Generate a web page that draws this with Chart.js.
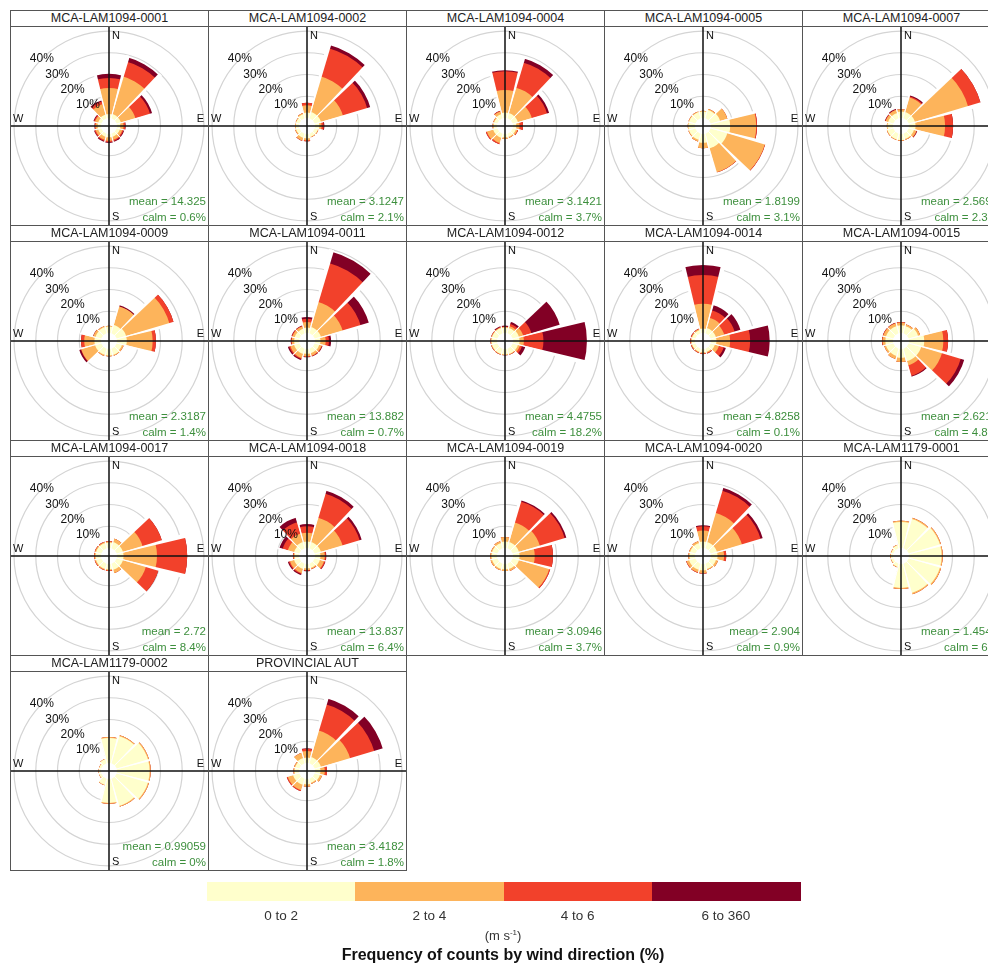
<!DOCTYPE html>
<html>
<head>
<meta charset="utf-8">
<script src="https://cdn.jsdelivr.net/npm/chart.js@4.4.1/dist/chart.umd.min.js"></script>
<style>
  html, body { margin: 0; padding: 0; background: #fff; overflow: hidden; width: 988px; height: 964px; }
  #fig { position: relative; width: 988px; height: 964px; overflow: hidden; font-family: "Liberation Sans", Arial, sans-serif; }
  .panel { position: absolute; width: 199px; height: 216px; box-sizing: border-box; border: 1px solid #555; background: #fff; overflow: hidden; }
  .ptitle { height: 15px; border-bottom: 1px solid #555; text-align: center; font-size: 12.5px; line-height: 15px; color: #222; white-space: nowrap; }
  .panel canvas { position: absolute; left: 0; top: 16px; }
  .stat { position: absolute; right: 2px; font-size: 11.5px; line-height: 13px; color: #3d8f3d; white-space: nowrap; }
  .seg { position: absolute; top: 882px; height: 19px; }
  .segLab { position: absolute; top: 908px; font-size: 13.5px; line-height: 16px; color: #333; text-align: center; }
  #unit { position: absolute; left: 403px; width: 200px; top: 925px; text-align: center; font-size: 13px; line-height: 16px; color: #333; }
  #ltitle { position: absolute; left: 253px; width: 500px; top: 945px; text-align: center; font-size: 16px; font-weight: bold; line-height: 19px; color: #111; }
</style>
</head>
<body>
<div id="fig"></div>
<script>
// 30-degree direction sectors, clockwise from north
const directions = ['N', 'NNE', 'ENE', 'E', 'ESE', 'SSE', 'S', 'SSW', 'WSW', 'W', 'WNW', 'NNW'];

const stations = [
  'MCA-LAM1094-0001', 'MCA-LAM1094-0002', 'MCA-LAM1094-0004', 'MCA-LAM1094-0005', 'MCA-LAM1094-0007',
  'MCA-LAM1094-0009', 'MCA-LAM1094-0011', 'MCA-LAM1094-0012', 'MCA-LAM1094-0014', 'MCA-LAM1094-0015',
  'MCA-LAM1094-0017', 'MCA-LAM1094-0018', 'MCA-LAM1094-0019', 'MCA-LAM1094-0020', 'MCA-LAM1179-0001',
  'MCA-LAM1179-0002', 'PROVINCIAL AUT'
];

const meanSpeed = [14.325, 3.1247, 3.1421, 1.8199, 2.5693, 2.3187, 13.882, 4.4755, 4.8258, 2.6214,
  2.72, 13.837, 3.0946, 2.904, 1.4543, 0.99059, 3.4182];

const calmPct = [0.6, 2.1, 3.7, 3.1, 2.3, 1.4, 0.7, 18.2, 0.1, 4.8, 8.4, 6.4, 3.7, 0.9, 6, 0, 1.8];

const binLabels = ['0 to 2', '2 to 4', '4 to 6', '6 to 360'];
const binColors = ['#FFFFCC', '#FDB45B', '#F2412B', '#820025'];

// frequency (%) per direction for each speed bin, one row per station
const freq0to2 = [
  [1.8, 2, 2, 1.5, 1.5, 1.5, 1.5, 1.5, 1.5, 1.5, 1.5, 1.8],
  [2.5, 3, 3, 2, 1.5, 1.5, 2, 2, 1.5, 1.5, 1.5, 2],
  [2.5, 2.5, 2.5, 1.5, 1.5, 1.5, 1.5, 2, 2, 1.5, 1.5, 2],
  [3, 4, 4.5, 8.8, 8, 7, 4, 3, 3, 3, 3, 3],
  [3, 3, 3, 3, 2.5, 2.5, 2.8, 2.8, 2.8, 2.5, 2.5, 2.5],
  [3, 4, 4.5, 4.5, 2.5, 3, 3, 3, 3, 3, 2.8, 3],
  [2.5, 3, 3, 2.5, 2.2, 2.2, 2.2, 2.5, 2.5, 2.2, 2.2, 2.2],
  [2.5, 2.5, 3, 3, 2.5, 2.5, 2.5, 2.5, 2.5, 2.5, 2.5, 2.5],
  [2, 2.5, 2.5, 2.5, 2, 1.5, 1.5, 1.5, 1.5, 1.5, 1.5, 1.5],
  [3.5, 3.5, 4.5, 7, 6, 6, 4, 3.5, 3.5, 3.5, 3.5, 3.5],
  [2.5, 3, 3, 3, 3, 3, 2.5, 2.5, 2.5, 2.5, 2.5, 2.5],
  [3, 3, 3, 2.5, 2.5, 2, 2, 2.5, 2.5, 2, 2.5, 3],
  [3, 3, 3, 3, 3, 2.5, 2.5, 2.5, 2.5, 2.5, 2.5, 2.5],
  [3, 3, 3, 3, 2.5, 2.5, 3, 3, 3, 2.5, 2.5, 2.5],
  [12, 14, 15, 15, 15, 14, 11, 1.5, 1, 1, 1, 1.5],
  [11.5, 13, 15, 15, 15, 13, 11, 3, 1, 1, 1, 2],
  [2.5, 3, 3, 2.5, 2.5, 2, 2.5, 3, 3, 2, 2, 2.5]
];
const freq2to4 = [
  [12, 18, 7, 1.5, 1.2, 1.5, 1.6, 1.5, 1.2, 1, 1.5, 5],
  [3.3, 17, 10.5, 1, 0.3, 0.3, 1, 1.3, 0.5, 0.3, 0.3, 0.5],
  [10.4, 12.2, 6.7, 1.5, 0.8, 0.5, 0.8, 2.5, 3, 0.5, 0.5, 1.3],
  [0.3, 0.5, 3.5, 12, 18, 11.5, 2.5, 0.8, 0.3, 0.3, 0.3, 0.3],
  [1, 7, 25.5, 13.6, 1.2, 0.5, 0.3, 0.3, 0.3, 0.3, 1.2, 1.5],
  [0.3, 8.9, 20.8, 11.9, 0.8, 0.3, 0.3, 0.5, 6.6, 4.7, 1, 0.5],
  [2.5, 12, 10.4, 2.4, 1.1, 1.1, 1.1, 2, 1.8, 1.1, 1.1, 1.1],
  [0.3, 1, 2, 2, 1, 0.3, 0.3, 0.3, 0.3, 0.3, 0.3, 0.3],
  [11.4, 4.9, 4, 6.3, 2, 0.5, 0.5, 0.4, 0.4, 0.4, 0.4, 0.5],
  [1.3, 0.8, 1, 8.8, 10, 2, 2, 1.5, 0.8, 1.3, 1.3, 1.3],
  [0.5, 1.6, 9.4, 15.4, 11, 1.5, 0.5, 0.5, 0.5, 0.5, 0.5, 0.5],
  [4, 11.7, 10.4, 2, 2, 0.5, 0.8, 2, 2, 0.5, 3, 4],
  [2, 9.4, 10, 7, 14.5, 1, 0.7, 0.7, 0.7, 0.5, 0.5, 1],
  [5, 14, 12, 3, 1, 0.5, 1.2, 1.2, 1.2, 0.5, 0.5, 1],
  [0.5, 0.6, 0.5, 0.5, 0.6, 0.6, 0.5, 0.3, 0.2, 0.2, 0.2, 0.2],
  [0.4, 0.5, 0.5, 0.5, 0.5, 0.5, 0.4, 0.2, 0.1, 0.1, 0.1, 0.1],
  [3, 12.7, 14, 2, 1, 0.5, 1, 2.5, 2.5, 0.5, 0.5, 2.5]
];
const freq4to6 = [
  [4.6, 7, 7, 0.8, 0.5, 0.5, 0.6, 0.5, 0.5, 0.3, 0.5, 1.2],
  [1.2, 13.5, 11.7, 1, 0, 0, 0.3, 0.2, 0, 0, 0, 0],
  [8.6, 12, 7.3, 1.6, 0.3, 0, 0, 0.6, 0.5, 0, 0, 0.3],
  [0, 0, 0, 0.4, 0.2, 0.1, 0, 0, 0, 0, 0, 0],
  [0, 0.5, 6, 3.7, 0.2, 0, 0, 0, 0, 0, 0.2, 0.2],
  [0, 0, 2, 1.5, 0, 0, 0, 0, 0.2, 1.5, 0, 0],
  [1.5, 18.6, 8.6, 1.5, 0.3, 0.3, 0.3, 0.5, 0.6, 0.3, 0.3, 0.3],
  [0.2, 1, 4, 9, 1, 0.1, 0.1, 0.1, 0.1, 0.1, 0.1, 0.2],
  [13.3, 3.6, 5, 9.2, 2.3, 0.3, 0.3, 0.2, 0.2, 0.2, 0.2, 0.2],
  [0.2, 0, 0, 2.2, 9, 5, 0, 0, 0, 0.2, 0.2, 0.2],
  [0.2, 0, 9.3, 13.9, 6, 0, 0.2, 0.2, 0.2, 0.2, 0.2, 0.2],
  [3, 11.5, 8.2, 0.5, 0.5, 0.2, 0.3, 0.5, 0.5, 0.2, 2.5, 5.5],
  [0, 10, 12, 8.4, 0.5, 0, 0, 0, 0, 0, 0, 0],
  [2, 10.6, 9, 1, 0, 0, 0.2, 0.2, 0.2, 0, 0, 0],
  [0, 0, 0, 0, 0, 0, 0, 0, 0, 0, 0, 0],
  [0, 0, 0, 0, 0, 0, 0, 0, 0, 0, 0, 0],
  [1, 12.5, 11.6, 1, 0, 0, 0, 0.5, 0.5, 0, 0, 0]
];
const freq6to360 = [
  [1.9, 2, 1, 0.2, 0.4, 0.4, 0.4, 0.4, 0.3, 0.2, 0.3, 0.6],
  [0, 1.5, 1.5, 0.3, 0, 0, 0, 0, 0, 0, 0, 0],
  [0.5, 1.9, 1, 0, 0, 0, 0, 0, 0, 0, 0, 0.1],
  [0, 0, 0, 0, 0, 0, 0, 0, 0, 0, 0, 0],
  [0, 0.5, 0, 0, 0.2, 0, 0, 0, 0, 0, 0.2, 0.3],
  [0, 0.5, 0, 0, 0, 0, 0, 0, 0.8, 0, 0.2, 0],
  [0.9, 5.4, 4, 1, 0.2, 0.2, 0.2, 0.5, 0.6, 0.2, 0.2, 0.2],
  [0.4, 1, 13.6, 20, 1.5, 0.1, 0.1, 0.1, 0.1, 0.1, 0.1, 0.4],
  [4.6, 2.4, 2.8, 9, 1, 0.1, 0.1, 0.1, 0.1, 0.1, 0.1, 0.1],
  [0.1, 0, 0, 0, 1.7, 0.5, 0, 0, 0, 0.1, 0.1, 0.1],
  [0, 0, 0, 0, 0, 0, 0, 0, 0, 0, 0, 0],
  [1, 1.4, 1, 0.2, 0.2, 0, 0.2, 0.5, 0.5, 0.1, 1.5, 2.2],
  [0, 0.6, 0.8, 0, 0, 0, 0, 0, 0, 0, 0, 0],
  [0.5, 1.4, 1, 0, 0, 0, 0, 0, 0, 0, 0, 0],
  [0, 0, 0, 0, 0, 0, 0, 0, 0, 0, 0, 0],
  [0, 0, 0, 0, 0, 0, 0, 0, 0, 0, 0, 0],
  [0.3, 2.8, 4.1, 0, 0, 0, 0, 0, 0, 0, 0, 0]
];

const ringValues = [10, 20, 30, 40];

// ---- layout ----
const COLS = 5, PANEL_W = 198, PANEL_H = 215, ORIGIN_X = 10, ORIGIN_Y = 10;
const CANVAS_W = 197, CANVAS_H = 198;
// radial axis range: negative minimum leaves an empty hole around the centre
const R_MIN = -3.7, R_MAX = 41.4;

const fig = document.getElementById('fig');

// White wedges between sectors, centre hole, cross axes and annotations
const roseDecor = {
  id: 'roseDecor',
  afterDatasetsDraw(chart) {
    const r = chart.scales.r;
    const ctx = chart.ctx;
    const cx = r.xCenter, cy = r.yCenter;
    const outer = chart.getDatasetMeta(chart.data.datasets.length - 1).data;
    const n = outer.length;
    const half = 1.6 * Math.PI / 180;
    ctx.save();
    ctx.fillStyle = '#fff';
    ctx.strokeStyle = '#fff';
    ctx.lineWidth = 1;
    for (let k = 0; k < n; k++) {
      const a = outer[k].startAngle;
      const prev = outer[(k - 1 + n) % n];
      const len = Math.max(outer[k].outerRadius, prev.outerRadius) + 2;
      ctx.beginPath();
      ctx.moveTo(cx, cy);
      ctx.arc(cx, cy, len, a - half, a + half);
      ctx.closePath();
      ctx.fill();
      ctx.beginPath();
      ctx.moveTo(cx, cy);
      ctx.lineTo(cx + len * Math.cos(a), cy + len * Math.sin(a));
      ctx.stroke();
    }
    ctx.beginPath();
    ctx.arc(cx, cy, r.getDistanceFromCenterForValue(0), 0, 2 * Math.PI);
    ctx.fill();

    ctx.strokeStyle = '#111';
    ctx.lineWidth = 1.5;
    ctx.beginPath();
    ctx.moveTo(0, cy); ctx.lineTo(chart.width, cy);
    ctx.moveTo(cx, 0); ctx.lineTo(cx, chart.height);
    ctx.stroke();

    ctx.fillStyle = '#111';
    ctx.font = '11px "Liberation Sans", Arial, sans-serif';
    ctx.textBaseline = 'middle';
    ctx.textAlign = 'left';
    ctx.fillText('N', cx + 3, 9);
    ctx.fillText('S', cx + 3, chart.height - 8);
    ctx.fillText('W', 2, cy - 7);
    ctx.textAlign = 'right';
    ctx.fillText('E', chart.width - 4, cy - 7);

    ctx.font = '12px "Liberation Sans", Arial, sans-serif';
    ctx.textAlign = 'center';
    ringValues.forEach(v => {
      const d = r.getDistanceFromCenterForValue(v) * Math.SQRT1_2;
      ctx.fillText(v + '%', cx - d, cy - d);
    });
    ctx.restore();
  }
};

const bins = [freq0to2, freq2to4, freq4to6, freq6to360];

stations.forEach((name, s) => {
  const col = s % COLS, row = Math.floor(s / COLS);
  const panel = document.createElement('div');
  panel.className = 'panel';
  panel.style.left = (ORIGIN_X + col * PANEL_W) + 'px';
  panel.style.top = (ORIGIN_Y + row * PANEL_H) + 'px';

  const title = document.createElement('div');
  title.className = 'ptitle';
  title.textContent = name;
  panel.appendChild(title);

  const canvas = document.createElement('canvas');
  canvas.width = CANVAS_W;
  canvas.height = CANVAS_H;
  canvas.style.width = CANVAS_W + 'px';
  canvas.style.height = CANVAS_H + 'px';
  panel.appendChild(canvas);

  const meanEl = document.createElement('div');
  meanEl.className = 'stat';
  meanEl.style.top = '184px';
  meanEl.textContent = 'mean = ' + meanSpeed[s];
  panel.appendChild(meanEl);

  const calmEl = document.createElement('div');
  calmEl.className = 'stat';
  calmEl.style.top = '200px';
  calmEl.textContent = 'calm = ' + calmPct[s] + '%';
  panel.appendChild(calmEl);

  fig.appendChild(panel);

  // stacked paddles: each dataset holds the running total up to its speed bin,
  // the first (innermost) dataset is painted last, on top
  const running = directions.map(() => 0);
  const datasets = bins.map((bin, b) => {
    const values = bin[s].map((v, i) => (running[i] += v));
    return {
      label: binLabels[b],
      data: values.slice(),
      backgroundColor: binColors[b],
      borderWidth: 0
    };
  });

  new Chart(canvas, {
    type: 'polarArea',
    data: { labels: directions, datasets },
    options: {
      responsive: false,
      animation: false,
      devicePixelRatio: 1,
      layout: { padding: 0 },
      plugins: { legend: { display: false }, tooltip: { enabled: false } },
      scales: {
        r: {
          min: R_MIN,
          max: R_MAX,
          startAngle: -15,
          // grid circles only at the percentage rings
          afterBuildTicks: (scale) => { scale.ticks = ringValues.map(v => ({ value: v })); },
          ticks: { display: false },
          grid: { circular: true, color: '#d4d4d4', lineWidth: 1.2 },
          angleLines: { display: false },
          pointLabels: { display: false }
        }
      }
    },
    plugins: [roseDecor]
  });
});

// colour key for the speed bins
const KEY_X = 207, KEY_W = 593;
binLabels.forEach((lab, b) => {
  const w = KEY_W / binLabels.length;
  const seg = document.createElement('div');
  seg.className = 'seg';
  seg.style.left = (KEY_X + b * w) + 'px';
  seg.style.width = (w + 0.5) + 'px';
  seg.style.background = binColors[b];
  fig.appendChild(seg);
  const t = document.createElement('div');
  t.className = 'segLab';
  t.style.left = (KEY_X + b * w) + 'px';
  t.style.width = w + 'px';
  t.textContent = lab;
  fig.appendChild(t);
});
const unit = document.createElement('div');
unit.id = 'unit';
unit.innerHTML = '(m s<sup style="font-size:8px;vertical-align:5px;">-1</sup>)';
fig.appendChild(unit);
const lt = document.createElement('div');
lt.id = 'ltitle';
lt.textContent = 'Frequency of counts by wind direction (%)';
fig.appendChild(lt);
</script>
</body>
</html>
